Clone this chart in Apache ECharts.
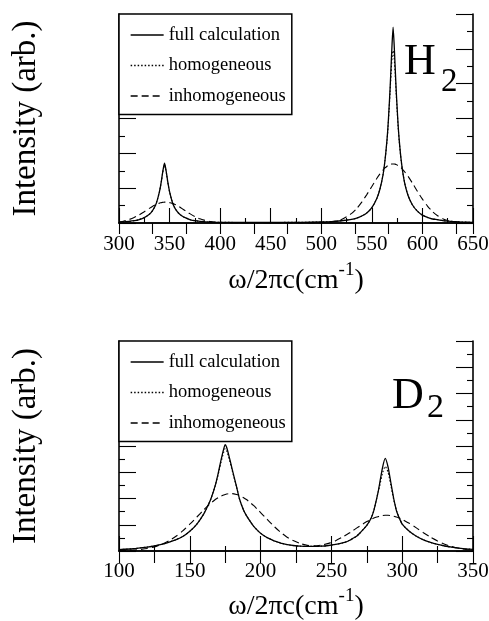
<!DOCTYPE html>
<html><head><meta charset="utf-8">
<script src="https://cdn.jsdelivr.net/npm/echarts@6/dist/echarts.min.js"></script>
<style>html,body{margin:0;padding:0;background:#fff}#c{width:489px;height:621px}</style>
</head><body><div id="c"></div>
<script>
// ---- H2 panel data (wavenumber cm^-1, intensity arb.) ----
const h2Freq = [300,305,310,315,320,325,330,333,336,338,340,341,342,343,344,345,346,347,348,349,350,352,354,356,359,362,366,370,375,380,385,390,400,420,450,480,500,510,520,530,535,540,545,550,555,558,561,563,565,566,567,568,569,570,571,572,573,574,575,576,577,579,581,583,586,590,595,600,605,610,615,620,625,630,640,650];
const h2Full = [0.05,0.07,0.09,0.13,0.2,0.31,0.5,0.7,1.0,1.34,1.8,2.1,2.45,2.85,3.2,3.43,3.2,2.85,2.45,2.1,1.8,1.34,1.0,0.78,0.56,0.42,0.29,0.2,0.13,0.09,0.07,0.05,0.04,0.03,0.03,0.04,0.06,0.08,0.13,0.21,0.28,0.4,0.58,0.88,1.42,1.95,2.75,3.6,4.8,5.6,6.6,7.7,9.0,10.3,11.24,10.3,9.0,7.7,6.6,5.6,4.8,3.6,2.75,2.15,1.55,1.05,0.68,0.45,0.32,0.23,0.19,0.14,0.11,0.085,0.055,0.037];
const h2Homo = [0.05,0.07,0.09,0.13,0.2,0.31,0.5,0.7,1.0,1.34,1.8,2.08,2.42,2.8,3.12,3.3,3.12,2.8,2.42,2.08,1.78,1.34,1.0,0.78,0.56,0.42,0.29,0.2,0.13,0.09,0.07,0.05,0.04,0.03,0.03,0.04,0.06,0.08,0.13,0.21,0.28,0.4,0.58,0.88,1.42,1.95,2.75,3.6,4.72,5.5,6.45,7.5,8.6,9.5,9.9,9.5,8.6,7.5,6.45,5.5,4.72,3.55,2.75,2.15,1.55,1.05,0.68,0.45,0.32,0.23,0.19,0.14,0.11,0.085,0.055,0.037];
const h2Inhomo = [0.06,0.12,0.2,0.32,0.47,0.65,0.84,0.95,1.045,1.1,1.14,1.16,1.17,1.185,1.19,1.2,1.2,1.2,1.19,1.185,1.17,1.14,1.1,1.045,0.95,0.84,0.69,0.54,0.37,0.24,0.15,0.08,0.02,0,0,0,0.01,0.06,0.2,0.55,0.83,1.2,1.63,2.1,2.57,2.82,3.04,3.16,3.26,3.3,3.33,3.36,3.38,3.39,3.39,3.39,3.38,3.36,3.33,3.3,3.26,3.16,3.04,2.9,2.66,2.3,1.82,1.37,0.97,0.65,0.42,0.25,0.14,0.08,0.02,0];

// ---- D2 panel data ----
const d2Freq = [100,110,120,125,130,135,140,145,150,155,160,163,165,168,170,172,174,175,176,178,180,183,185,188,190,193,195,198,200,203,205,208,210,213,215,218,220,223,228,233,238,243,248,253,258,260,263,265,268,270,273,275,278,280,282,283,284,286,288,290,292,294,295,296,298,300,305,310,315,320,325,330,335,340,345,350];
const d2Full = [0.1,0.17,0.3,0.38,0.5,0.66,0.85,1.1,1.5,2.05,2.85,3.5,4.0,5.0,5.9,6.9,7.8,8.1,7.9,7.1,6.2,4.9,4.0,3.1,2.7,2.2,1.9,1.55,1.35,1.12,1.0,0.85,0.75,0.65,0.58,0.5,0.46,0.42,0.37,0.35,0.35,0.37,0.42,0.5,0.62,0.68,0.82,0.95,1.15,1.35,1.7,1.95,2.5,3.1,4.0,4.5,5.1,6.3,7.05,6.4,5.2,4.0,3.5,3.05,2.5,2.05,1.5,1.12,0.85,0.65,0.5,0.38,0.29,0.22,0.16,0.12];
const d2Homo = [0.1,0.17,0.3,0.38,0.5,0.66,0.85,1.1,1.5,2.05,2.85,3.5,4.0,5.0,5.8,6.75,7.55,7.8,7.65,6.95,6.1,4.9,4.0,3.1,2.7,2.2,1.9,1.55,1.35,1.12,1.0,0.85,0.75,0.65,0.58,0.5,0.46,0.42,0.37,0.35,0.35,0.37,0.42,0.5,0.62,0.68,0.82,0.95,1.15,1.35,1.7,1.95,2.5,3.1,4.0,4.5,4.9,5.9,6.45,6.0,5.0,3.9,3.5,3.05,2.5,2.05,1.5,1.12,0.85,0.65,0.5,0.38,0.29,0.22,0.16,0.12];
const d2Inhomo = [0.02,0.06,0.19,0.31,0.5,0.76,1.1,1.53,2.04,2.59,3.15,3.47,3.66,3.92,4.06,4.18,4.27,4.31,4.34,4.37,4.37,4.31,4.23,4.06,3.92,3.66,3.47,3.15,2.93,2.59,2.37,2.04,1.83,1.53,1.35,1.1,0.97,0.8,0.57,0.43,0.4,0.45,0.58,0.79,1.07,1.2,1.39,1.54,1.76,1.9,2.11,2.24,2.41,2.51,2.59,2.62,2.65,2.7,2.72,2.72,2.7,2.65,2.62,2.59,2.51,2.41,2.11,1.76,1.39,1.05,0.76,0.52,0.34,0.21,0.12,0.07];

const seriesNames = ['full calculation','homogeneous','inhomogeneous'];
const h2Range = [300, 650];
const d2Range = [100, 350];

const zip = (xs, ys) => xs.map((x, i) => [x, ys[i]]);
const SERIF = 'Liberation Serif';

const styles = {
  'full calculation': {type: 'solid', width: 1.3},
  'homogeneous': {type: [1.5, 2], width: 1.1},
  'inhomogeneous': {type: [7, 4], width: 1.1}
};

function mkSeries(name, data, xi, yi) {
  return {
    name, type: 'line', xAxisIndex: xi, yAxisIndex: yi, data,
    symbol: 'none', smooth: 0.2, animation: false,
    lineStyle: Object.assign({color: '#000'}, styles[name]),
    itemStyle: {color: '#000'}
  };
}

function xBottom(grid, range, margin, nameGap) {
  return {
    type: 'value', gridIndex: grid, min: range[0], max: range[1], interval: 50,
    position: 'bottom',
    axisLine: {show: true, lineStyle: {color: '#000', width: 1.6}},
    axisTick: {show: true, inside: true, length: 15, lineStyle: {color: '#000', width: 1.1}},
    minorTick: {show: true, splitNumber: 2, length: 5, lineStyle: {color: '#000', width: 1.1}},
    splitLine: {show: false},
    axisLabel: {color: '#000', fontFamily: SERIF, fontSize: 21, margin: margin},
    name: '{a|ω/2πc(cm}{s|-1}{a|)}',
    nameLocation: 'middle', nameGap: nameGap,
    nameTextStyle: {
      rich: {
        a: {fontFamily: SERIF, fontSize: 28, color: '#000', lineHeight: 40},
        s: {fontFamily: SERIF, fontSize: 19, color: '#000', lineHeight: 20, verticalAlign: 'top'}
      }
    }
  };
}
function xTop(grid, range, interval, len) {
  return {
    type: 'value', gridIndex: grid, min: range[0], max: range[1], interval: interval,
    position: 'top',
    axisLine: {show: true, lineStyle: {color: '#000', width: 1.6}},
    axisTick: {show: true, inside: true, length: len, lineStyle: {color: '#000', width: 1.1}},
    splitLine: {show: false}, axisLabel: {show: false}
  };
}
function yAxis(grid, max, pos, withName) {
  const a = {
    type: 'value', gridIndex: grid, min: 0, max: max, interval: 2, position: pos,
    axisLine: {show: true, lineStyle: {color: '#000', width: 1.6}},
    axisTick: {show: true, inside: true, length: 17, lineStyle: {color: '#000', width: 1.1}},
    minorTick: {show: true, splitNumber: 2, length: 6, lineStyle: {color: '#000', width: 1.1}},
    splitLine: {show: false}, axisLabel: {show: false}
  };
  if (withName) {
    a.name = 'Intensity (arb.)';
    a.nameLocation = 'middle';
    a.nameGap = 76;
    a.nameTextStyle = {fontFamily: SERIF, fontSize: 33, color: '#000'};
  }
  return a;
}
function legend(top, padding) {
  return {
    data: seriesNames, orient: 'vertical', left: 119, top: top,
    itemWidth: 33, itemHeight: 14, itemGap: 11.5,
    padding: padding,
    backgroundColor: '#fff', borderColor: '#000', borderWidth: 1.5,
    lineStyle: {width: 1.3},
    itemStyle: {opacity: 0, borderWidth: 0},
    textStyle: {fontFamily: SERIF, fontSize: 18.5, color: '#000'},
    selectedMode: false
  };
}

const chart = echarts.init(document.getElementById('c'), null, {renderer: 'canvas'});
chart.setOption({
  backgroundColor: '#fff',
  animation: false,
  grid: [
    {left: 119, top: 14, width: 354, height: 209, outerBoundsMode: 'none'},
    {left: 119, top: 341, width: 354, height: 210, outerBoundsMode: 'none'}
  ],
  xAxis: [
    xBottom(0, h2Range, 11, 38),
    xTop(0, h2Range, 100 / 3, 11),
    xBottom(1, d2Range, 10, 36),
    xTop(1, d2Range, 25, 12)
  ],
  yAxis: [
    yAxis(0, 12, 'left', true),
    yAxis(0, 12, 'right', false),
    yAxis(1, 16, 'left', true),
    yAxis(1, 16, 'right', false)
  ],
  legend: [
    legend(14, [11.5, 6, 9, 11]),
    legend(341, [11.5, 6, 9, 11])
  ],
  series: [
    mkSeries('inhomogeneous', zip(h2Freq, h2Inhomo), 0, 0),
    mkSeries('homogeneous', zip(h2Freq, h2Homo), 0, 0),
    mkSeries('full calculation', zip(h2Freq, h2Full), 0, 0),
    mkSeries('inhomogeneous', zip(d2Freq, d2Inhomo), 2, 2),
    mkSeries('homogeneous', zip(d2Freq, d2Homo), 2, 2),
    mkSeries('full calculation', zip(d2Freq, d2Full), 2, 2)
  ],
  graphic: [
    {type: 'text', left: 404, top: 40, style: {text: 'H', font: '44px "Liberation Serif"', fill: '#000'}},
    {type: 'text', left: 441, top: 66, style: {text: '2', font: '33px "Liberation Serif"', fill: '#000'}},
    {type: 'text', left: 392, top: 374, style: {text: 'D', font: '44px "Liberation Serif"', fill: '#000'}},
    {type: 'text', left: 427, top: 391, style: {text: '2', font: '34px "Liberation Serif"', fill: '#000'}}
  ]
});
</script></body></html>
